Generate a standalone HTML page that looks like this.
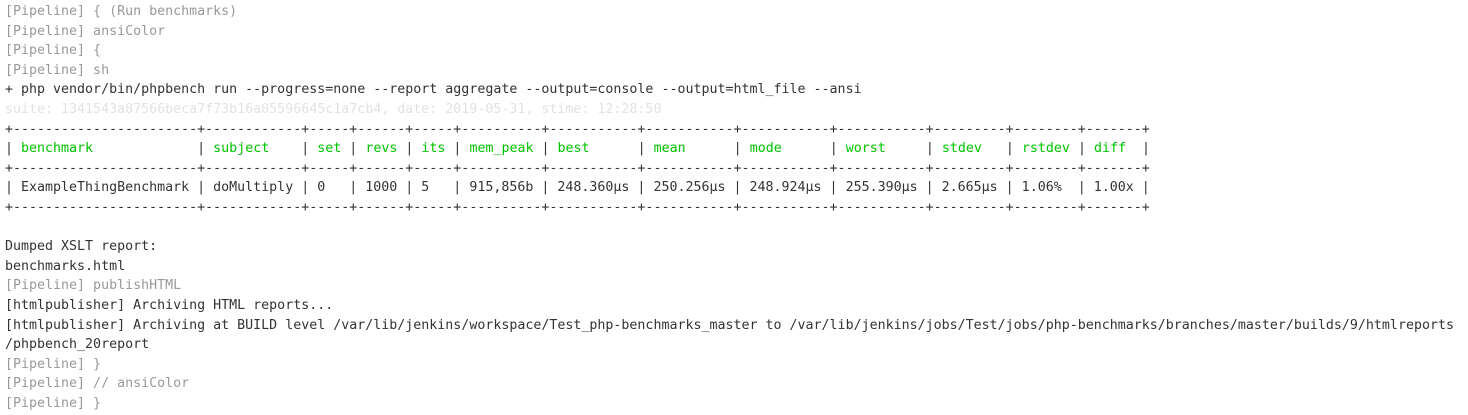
<!DOCTYPE html>
<html><head><meta charset="utf-8"><style>
html,body{margin:0;padding:0;background:#fff;width:1468px;height:415px;overflow:hidden}
pre{margin:0;padding:2px 0 0 5px;font-family:"DejaVu Sans Mono","Liberation Mono",monospace;font-size:13.3px;line-height:19.6px;color:#333;white-space:pre}
.g{color:#999}.l{color:#e2e2e2}.c{color:#00c200}
</style></head><body><pre><span class="g">[Pipeline] { (Run benchmarks)</span>
<span class="g">[Pipeline] ansiColor</span>
<span class="g">[Pipeline] {</span>
<span class="g">[Pipeline] sh</span>
+ php vendor/bin/phpbench run --progress=none --report aggregate --output=console --output=html_file --ansi
<span class="l">suite: 1341543a87566beca7f73b16a05596645c1a7cb4, date: 2019-05-31, stime: 12:28:50</span>
+-----------------------+------------+-----+------+-----+----------+-----------+-----------+-----------+-----------+---------+--------+-------+
| <span class="c">benchmark</span>             | <span class="c">subject</span>    | <span class="c">set</span> | <span class="c">revs</span> | <span class="c">its</span> | <span class="c">mem_peak</span> | <span class="c">best</span>      | <span class="c">mean</span>      | <span class="c">mode</span>      | <span class="c">worst</span>     | <span class="c">stdev</span>   | <span class="c">rstdev</span> | <span class="c">diff</span>  |
+-----------------------+------------+-----+------+-----+----------+-----------+-----------+-----------+-----------+---------+--------+-------+
| ExampleThingBenchmark | doMultiply | 0   | 1000 | 5   | 915,856b | 248.360μs | 250.256μs | 248.924μs | 255.390μs | 2.665μs | 1.06%  | 1.00x |
+-----------------------+------------+-----+------+-----+----------+-----------+-----------+-----------+-----------+---------+--------+-------+

Dumped XSLT report:
benchmarks.html
<span class="g">[Pipeline] publishHTML</span>
[htmlpublisher] Archiving HTML reports...
[htmlpublisher] Archiving at BUILD level /var/lib/jenkins/workspace/Test_php-benchmarks_master to /var/lib/jenkins/jobs/Test/jobs/php-benchmarks/branches/master/builds/9/htmlreports
/phpbench_20report
<span class="g">[Pipeline] }</span>
<span class="g">[Pipeline] // ansiColor</span>
<span class="g">[Pipeline] }</span></pre></body></html>
